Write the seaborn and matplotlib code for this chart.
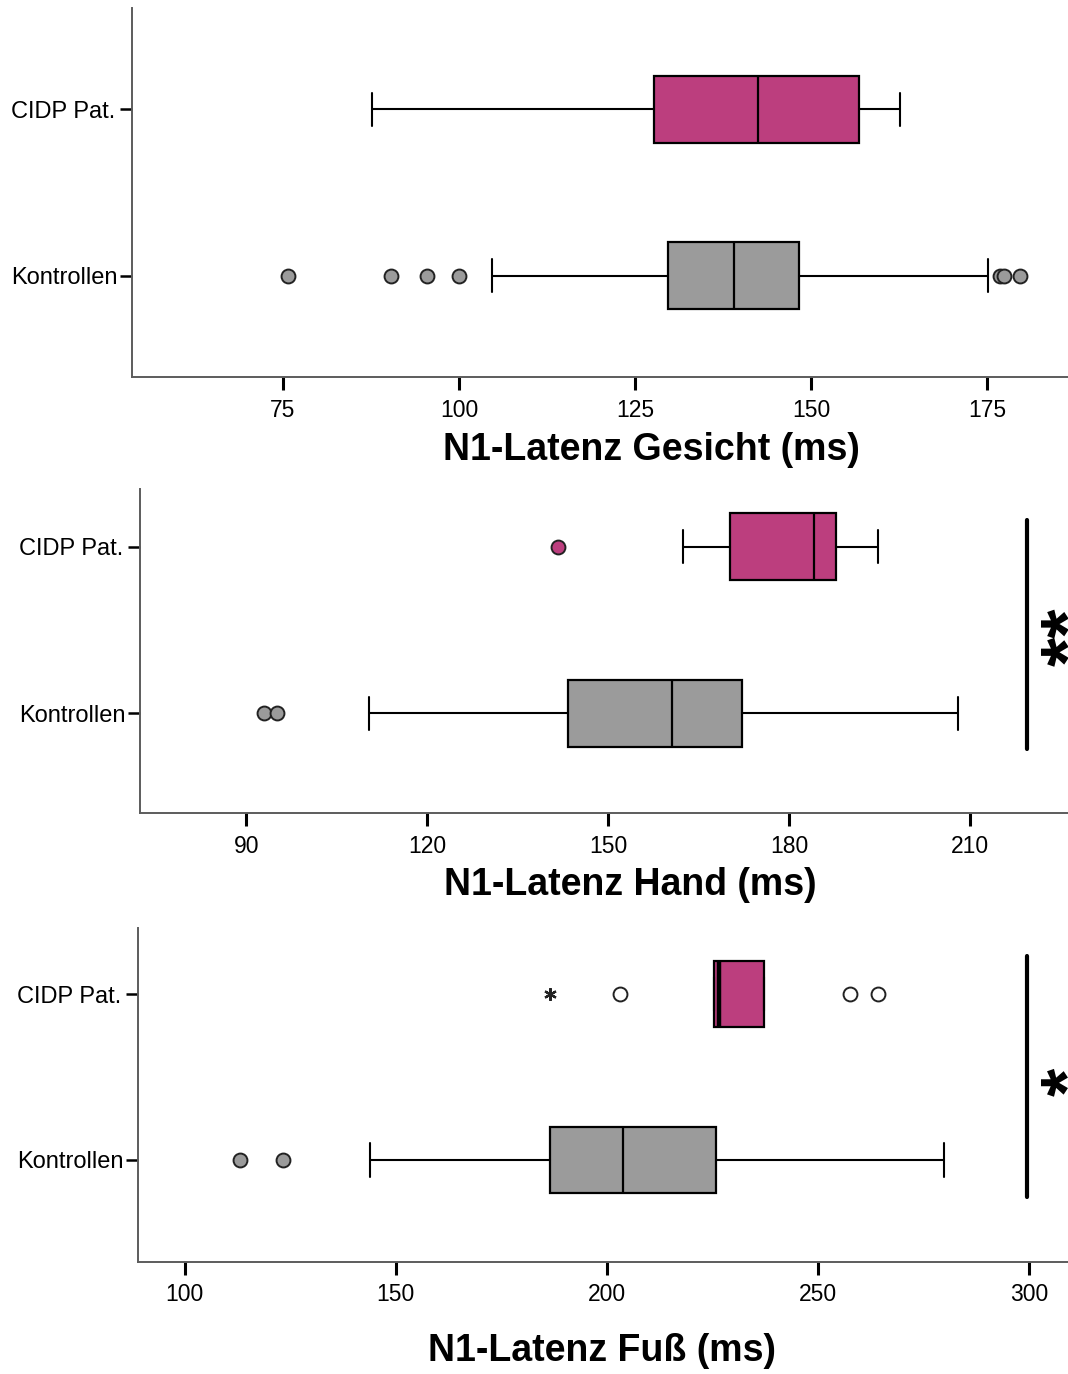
import matplotlib
matplotlib.use('Agg')
import matplotlib.pyplot as plt
import seaborn as sns

# groups (top to bottom)
groups = ['CIDP Pat.', 'Kontrollen']

# N1-Latenz Gesicht (ms)
gesicht_whislo = [87.6, 104.7]
gesicht_q1 = [127.7, 129.7]
gesicht_med = [142.5, 139.0]
gesicht_q3 = [156.8, 148.3]
gesicht_whishi = [162.6, 175.1]
gesicht_fliers = [[], [75.7, 90.4, 95.5, 100.0, 176.8, 177.4, 179.7]]
gesicht_ticks = [75, 100, 125, 150, 175]

# N1-Latenz Hand (ms)
hand_whislo = [162.3, 110.3]
hand_q1 = [170.2, 143.3]
hand_med = [184.1, 160.5]
hand_q3 = [187.8, 172.1]
hand_whishi = [194.7, 207.9]
hand_fliers = [[141.6], [92.9, 95.0]]
hand_ticks = [90, 120, 150, 180, 210]

# N1-Latenz Fuss (ms)
fuss_whislo = [225.5, 143.9]
fuss_q1 = [225.5, 186.7]
fuss_med = [226.6, 203.9]
fuss_q3 = [237.2, 225.9]
fuss_whishi = [237.2, 280.0]
fuss_fliers = [[203.2, 257.7, 264.2], [113.1, 123.3]]
fuss_extreme = [186.7]
fuss_ticks = [100, 150, 200, 250, 300]

PINK = '#bc3e7e'
GREY = '#9b9b9b'
SPINE = '#5c5c5c'
W, H = 1068, 1374

sns.set_theme(style='ticks')
plt.rcParams['font.family'] = ['Liberation Sans', 'DejaVu Sans']
plt.rcParams['text.color'] = 'black'

fig = plt.figure(figsize=(W / 100, H / 100), dpi=100)


def px_axes(left, top, bottom):
    return fig.add_axes([left / W, 1 - bottom / H, 1 - left / W, (bottom - top) / H])


def make_stats(whislo, q1, med, q3, whishi, fliers):
    return [dict(whislo=whislo[i], q1=q1[i], med=med[i], q3=q3[i],
                 whishi=whishi[i], fliers=fliers[i], label=groups[i])
            for i in range(len(groups))]


def draw_panel(ax, stats, xlim, ylim, ticks, xlabel, label_xy, ylab_pad, open_fliers=None):
    res = ax.bxp(stats, positions=[0, 1], widths=0.4, orientation='horizontal',
                 patch_artist=True, capwidths=0.2,
                 boxprops=dict(edgecolor='black', linewidth=1.6),
                 whiskerprops=dict(color='black', linewidth=1.5),
                 capprops=dict(color='black', linewidth=1.5),
                 medianprops=dict(color='black', linewidth=1.6),
                 flierprops=dict(marker='o', markersize=10, markeredgecolor='#222222',
                                 markeredgewidth=1.4, linestyle='none'))
    for box, col in zip(res['boxes'], [PINK, GREY]):
        box.set_facecolor(col)
    for fl, col in zip(res['fliers'], [PINK, GREY]):
        fl.set_markerfacecolor(col)
    if open_fliers is not None:
        fl = res['fliers'][open_fliers]
        fl.set_markerfacecolor('white')
        fl.set_markeredgecolor('#222222')
    ax.set_xlim(*xlim)
    ax.set_ylim(*ylim)
    ax.set_xticks(ticks)
    ax.set_xticklabels([str(t) for t in ticks])
    ax.set_yticks([0, 1])
    ax.set_yticklabels(groups)
    for lab in ax.get_yticklabels():
        lab.set_horizontalalignment('left')
    ax.tick_params(axis='x', length=9, width=2.2, pad=6.5, labelsize=16.5,
                   color='black', labelcolor='black')
    ax.tick_params(axis='y', length=8.5, width=1.8, pad=ylab_pad, labelsize=17,
                   color='black', labelcolor='black')
    for s in ['top', 'right']:
        ax.spines[s].set_visible(False)
    for s in ['left', 'bottom']:
        ax.spines[s].set_color(SPINE)
        ax.spines[s].set_linewidth(1.4)
    ax.set_xlabel(xlabel, fontsize=27, fontweight='bold', color='black')
    ax.xaxis.label.set_va('center')
    ax.xaxis.set_label_coords(label_xy[0] / W, 1 - label_xy[1] / H, transform=fig.transFigure)
    ax.set_facecolor('white')
    return res


# panel 1
ax1 = px_axes(131.5, 8, 377)
draw_panel(ax1, make_stats(gesicht_whislo, gesicht_q1, gesicht_med, gesicht_q3,
                           gesicht_whishi, gesicht_fliers),
           (53.5, 186.5), (1.61, -0.61), gesicht_ticks,
           'N1-Latenz Gesicht (ms)', (651, 450), 78)

# panel 2
ax2 = px_axes(140.3, 489, 813.3)
draw_panel(ax2, make_stats(hand_whislo, hand_q1, hand_med, hand_q3,
                           hand_whishi, hand_fliers),
           (72.4, 226.2), (1.6, -0.346), hand_ticks,
           'N1-Latenz Hand (ms)', (630, 885), 78.8)
ax2.plot([219.4, 219.4], [-0.16, 1.214], color='black', lw=3, clip_on=False)
ax2.text(226.9, 0.54, '**', rotation=90, ha='center', va='center', color='black',
         fontsize=54, fontweight='bold', clip_on=False)

# panel 3
ax3 = px_axes(137.9, 928.3, 1261.7)
res3 = draw_panel(ax3, make_stats(fuss_whislo, fuss_q1, fuss_med, fuss_q3,
                                  fuss_whishi, fuss_fliers),
                  (88.96, 309.3), (1.613, -0.396), fuss_ticks,
                  'N1-Latenz Fuß (ms)', (602, 1351), 78.5, open_fliers=0)
res3['medians'][0].set_linewidth(3.2)
ax3.plot(fuss_extreme, [0] * len(fuss_extreme), linestyle='none', marker=(6, 2, 0),
         markersize=9, markeredgewidth=1.6, color='#222222')
ax3.plot([299.5, 299.5], [-0.229, 1.221], color='black', lw=3, clip_on=False)
ax3.text(310.1, 0.53, '*', rotation=90, ha='center', va='center', color='black',
         fontsize=52, fontweight='bold', clip_on=False)

fig.savefig('out.png', dpi=100, facecolor='white')
